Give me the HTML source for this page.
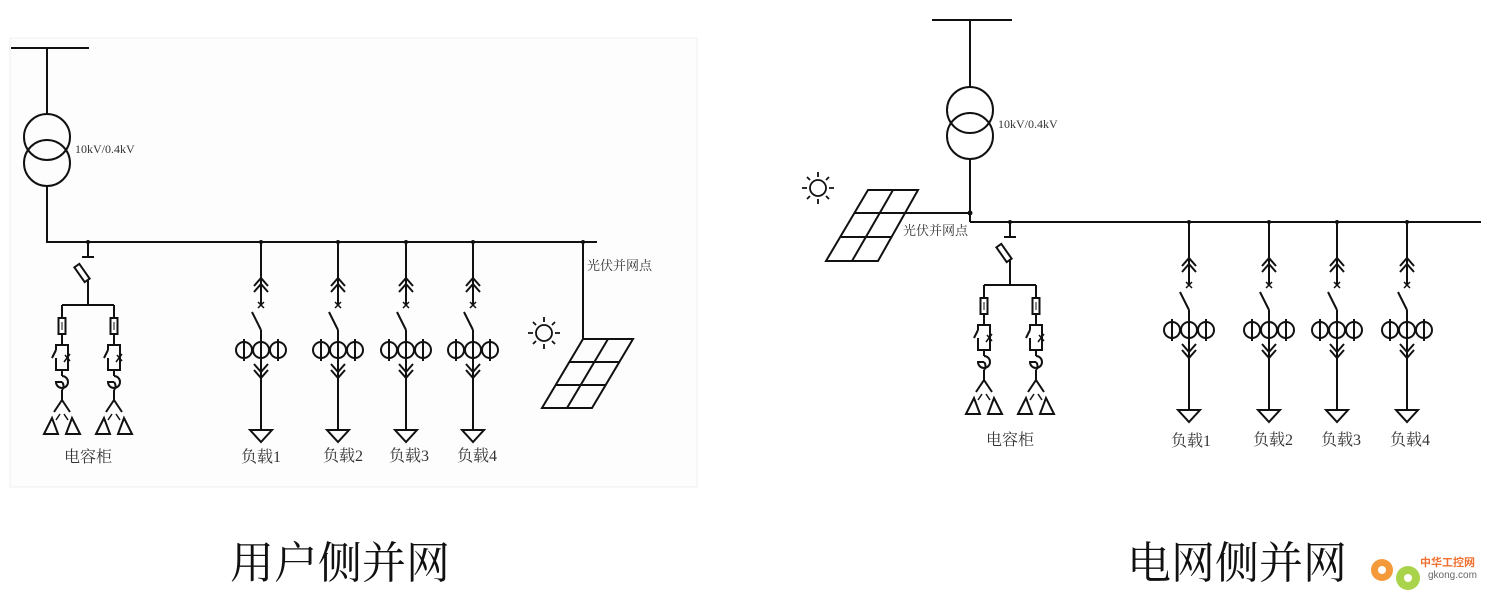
<!DOCTYPE html>
<html><head><meta charset="utf-8"><style>
html,body{margin:0;padding:0;background:#fff;}
svg{display:block;}
text{font-family:"Liberation Serif","Noto Serif CJK SC",serif;fill:#333;}
</style></head><body>
<svg width="1501" height="607" viewBox="0 0 1501 607" xmlns="http://www.w3.org/2000/svg">
<defs>
<g id="feeder" fill="none" stroke="#111" stroke-width="2">
  <circle cx="0" cy="0" r="2" fill="#111" stroke="none"/>
  <line x1="0" y1="0" x2="0" y2="63"/>
  <polyline points="-7,44 0,36 7,44"/>
  <polyline points="-7,50 0,42 7,50"/>
  <path d="M-3,60 L3,66 M3,60 L-3,66" stroke-width="1.5"/>
  <line x1="-9" y1="70" x2="0" y2="88"/>
  <line x1="0" y1="88" x2="0" y2="188"/>
  <circle cx="-17" cy="108" r="8"/>
  <circle cx="0" cy="108" r="8"/>
  <circle cx="17" cy="108" r="8"/>
  <line x1="-17" y1="97" x2="-17" y2="119"/>
  <line x1="17" y1="97" x2="17" y2="119"/>
  <polyline points="-7,122 0,130 7,122"/>
  <polyline points="-7,128 0,136 7,128"/>
  <polygon points="-11,188 11,188 0,200"/>
</g>
<g id="capb" fill="none" stroke="#111" stroke-width="2">
  <line x1="0" y1="63" x2="0" y2="76"/>
  <rect x="-3.5" y="76" width="7" height="16"/>
  <line x1="0" y1="80" x2="0" y2="88" stroke-width="1"/>
  <line x1="0" y1="92" x2="0" y2="103"/>
  <path d="M0,103 H-6 V108 M-6,116 V128 H6 V103 H0" />
  <line x1="-6" y1="108" x2="-10" y2="116"/>
  <path d="M2,120 L8,112 M3,113 L8,119" stroke-width="1.5"/>
  <line x1="0" y1="128" x2="0" y2="134"/>
  <path d="M0,134 A6,6 0 1 1 -6,140 L0,140 M0,140 A6,6 0 0 1 0,148"/>
  <line x1="0" y1="148" x2="0" y2="158"/>
  <polyline points="-8,170 0,158 8,170"/>
  <polygon points="-18,192 -10,176 -4,192"/>
  <polygon points="18,192 10,176 4,192"/>
  <path d="M-6,178 L-2,172 M6,178 L2,172" stroke-width="1.5"/>
</g>
<g id="cap" fill="none" stroke="#111" stroke-width="2">
  <circle cx="0" cy="0" r="2" fill="#111" stroke="none"/>
  <line x1="0" y1="0" x2="0" y2="15"/>
  <line x1="-6" y1="15" x2="6" y2="15"/>
  <g transform="translate(-6,31) rotate(-35)"><rect x="-3" y="-9" width="6" height="18"/></g>
  <line x1="0" y1="38" x2="0" y2="63"/>
  <line x1="-26" y1="63" x2="26" y2="63"/>
  <use href="#capb" transform="translate(-26,0)"/>
  <use href="#capb" transform="translate(26,0)"/>
</g>
<g id="sun" fill="none" stroke="#111" stroke-width="1.8">
  <circle cx="0" cy="0" r="8"/>
  <path d="M0,-11 V-16 M0,11 V16 M-11,0 H-16 M11,0 H16 M8,-8 L11,-11 M-8,-8 L-11,-11 M8,8 L11,11 M-8,8 L-11,11"/>
</g>
</defs>

<rect x="10" y="38" width="687" height="449" fill="#fdfdfd" stroke="#f0f0f0"/>

<g fill="none" stroke="#111" stroke-width="2">
  <line x1="11" y1="48" x2="89" y2="48"/>
  <line x1="47" y1="48" x2="47" y2="114"/>
  <circle cx="47" cy="137" r="23"/>
  <circle cx="47" cy="163" r="23"/>
  <line x1="47" y1="186" x2="47" y2="242"/>
  <line x1="46" y1="242" x2="597" y2="242"/>
  <line x1="583" y1="242" x2="583" y2="339"/>
  <polygon points="583,339 633,339 592,408 542,408"/>
  <line x1="569" y1="362" x2="620" y2="362"/>
  <line x1="556" y1="385" x2="606" y2="385"/>
  <line x1="608" y1="339" x2="567" y2="408"/>
</g>
<circle cx="583" cy="242" r="2" fill="#111"/>
<use href="#sun" transform="translate(544,333)"/>
<text x="75" y="153" font-size="12">10kV/0.4kV</text>
<text x="587" y="270" font-size="13">光伏并网点</text>
<use href="#cap" transform="translate(88,242)"/>
<use href="#feeder" transform="translate(261,242)"/>
<use href="#feeder" transform="translate(338,242)"/>
<use href="#feeder" transform="translate(406,242)"/>
<use href="#feeder" transform="translate(473,242)"/>
<text x="88" y="462" font-size="16" text-anchor="middle">电容柜</text>
<text x="261" y="462" font-size="16" text-anchor="middle">负载1</text>
<text x="343" y="461" font-size="16" text-anchor="middle">负载2</text>
<text x="409" y="461" font-size="16" text-anchor="middle">负载3</text>
<text x="477" y="461" font-size="16" text-anchor="middle">负载4</text>

<g fill="none" stroke="#111" stroke-width="2">
  <line x1="932" y1="20" x2="1012" y2="20"/>
  <line x1="970" y1="20" x2="970" y2="87"/>
  <circle cx="970" cy="110" r="23"/>
  <circle cx="970" cy="136" r="23"/>
  <line x1="970" y1="159" x2="970" y2="222"/>
  <line x1="970" y1="222" x2="1481" y2="222"/>
  <line x1="905" y1="213" x2="970" y2="213"/>
  <polygon points="868,190 918,190 878,261 826,261"/>
  <line x1="855" y1="213" x2="906" y2="213"/>
  <line x1="841" y1="237" x2="892" y2="237"/>
  <line x1="893" y1="190" x2="852" y2="261"/>
</g>
<circle cx="970" cy="213" r="2.5" fill="#111"/>
<use href="#sun" transform="translate(818,188)"/>
<text x="998" y="128" font-size="12">10kV/0.4kV</text>
<text x="903" y="235" font-size="13">光伏并网点</text>
<use href="#cap" transform="translate(1010,222)"/>
<use href="#feeder" transform="translate(1189,222)"/>
<use href="#feeder" transform="translate(1269,222)"/>
<use href="#feeder" transform="translate(1337,222)"/>
<use href="#feeder" transform="translate(1407,222)"/>
<text x="1010" y="445" font-size="16" text-anchor="middle">电容柜</text>
<text x="1191" y="446" font-size="16" text-anchor="middle">负载1</text>
<text x="1273" y="445" font-size="16" text-anchor="middle">负载2</text>
<text x="1341" y="445" font-size="16" text-anchor="middle">负载3</text>
<text x="1410" y="445" font-size="16" text-anchor="middle">负载4</text>

<text x="340" y="578" font-size="44" text-anchor="middle" style="fill:#111">用户侧并网</text>
<text x="1237" y="578" font-size="44" text-anchor="middle" style="fill:#111">电网侧并网</text>

<g>
  <circle cx="1382" cy="570" r="11" fill="#f59a3a"/>
  <circle cx="1382" cy="570" r="4" fill="#fff"/>
  <circle cx="1408" cy="578" r="12" fill="#a8d34a"/>
  <circle cx="1408" cy="578" r="4" fill="#fff"/>
  <text x="1420" y="566" font-size="11" style="fill:#f07030;font-weight:bold;font-family:'Liberation Sans','Noto Sans CJK SC',sans-serif">中华工控网</text>
  <text x="1428" y="578" font-size="10" style="fill:#666;font-family:'Liberation Sans',sans-serif">gkong.com</text>
</g>
</svg>
</body></html>
